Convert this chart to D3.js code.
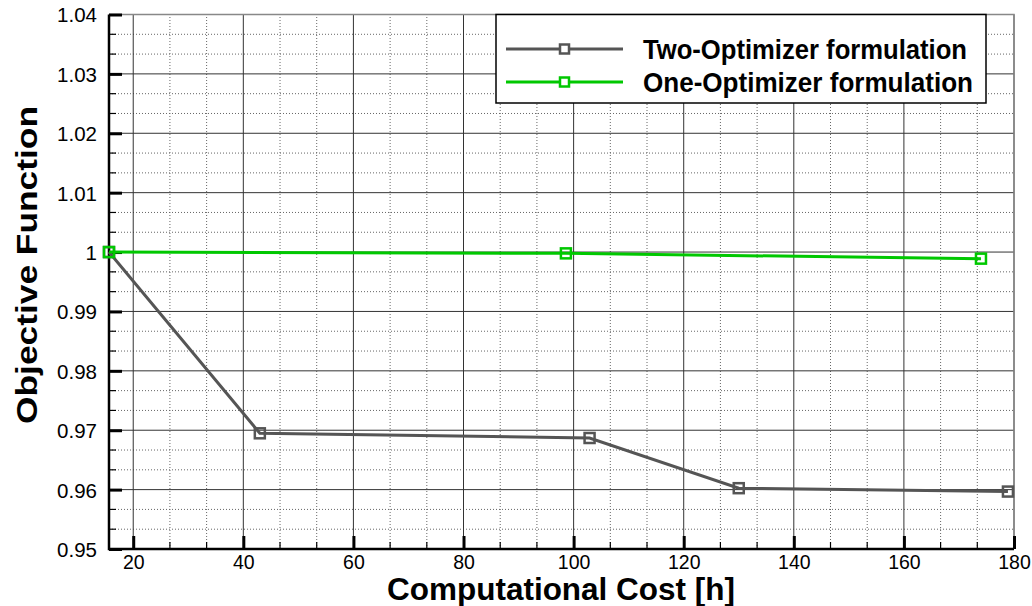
<!DOCTYPE html>
<html>
<head>
<meta charset="utf-8">
<script src="https://cdn.jsdelivr.net/npm/d3@7"></script>
<style>
  body { margin: 0; background: #fff; }
  svg { display: block; font-family: "Liberation Sans", Arial, sans-serif; }
</style>
</head>
<body>
<svg id="chart" width="1032" height="606"></svg>
<script>
// series values
const twoOptCost = [15.6, 43.0, 102.9, 130.0, 178.9];
const twoOptObj = [1.0, 0.96948, 0.96869, 0.96024, 0.95967];
const oneOptCost = [15.6, 98.6, 174.0];
const oneOptObj = [1.0, 0.99978, 0.99889];

const xTicks = [20, 40, 60, 80, 100, 120, 140, 160, 180];
const xTickLabels = ["20", "40", "60", "80", "100", "120", "140", "160", "180"];
const yTicks = [0.95, 0.96, 0.97, 0.98, 0.99, 1.0, 1.01, 1.02, 1.03, 1.04];
const yTickLabels = ["0.95", "0.96", "0.97", "0.98", "0.99", "1", "1.01", "1.02", "1.03", "1.04"];

const seriesNames = ["Two-Optimizer formulation", "One-Optimizer formulation"];
const seriesColours = ["#555555", "#00c800"];

const margin = { left: 109, right: 18, top: 14.5, bottom: 57 };
const width = 1032, height = 606;

var svg = d3.select("#chart");

var x = d3.scaleLinear()
	.domain([15.6, 180])
	.range([margin.left, width - margin.right]);
var y = d3.scaleLinear()
	.domain([0.95, 1.04])
	.range([height - margin.bottom, margin.top]);

// minor ticks: two between each pair of majors
var xMinor = [], yMinor = [];
for (var i = -1; i < xTicks.length - 1; i++) {
	var base = i < 0 ? xTicks[0] - 20 : xTicks[i];
	[base + 20 / 3, base + 40 / 3].forEach(function(v) {
		if (v >= x.domain()[0]) xMinor.push(v);
	});
}
for (var i = 0; i < yTicks.length - 1; i++) {
	yMinor.push(yTicks[i] + 0.01 / 3, yTicks[i] + 0.02 / 3);
}

var x0 = x.range()[0], x1 = x.range()[1];
var y0 = y.range()[0], y1 = y.range()[1];

// grid
var grid = svg.append("g");
grid.selectAll(".vminor").data(xMinor).enter().append("line")
	.attr("x1", d => x(d)).attr("x2", d => x(d))
	.attr("y1", y0).attr("y2", y1)
	.attr("stroke", "#666").attr("stroke-dasharray", "1,2");
grid.selectAll(".hminor").data(yMinor).enter().append("line")
	.attr("x1", x0).attr("x2", x1)
	.attr("y1", d => y(d)).attr("y2", d => y(d))
	.attr("stroke", "#666").attr("stroke-dasharray", "1,2");
grid.selectAll(".vmajor").data(xTicks).enter().append("line")
	.attr("x1", d => x(d)).attr("x2", d => x(d))
	.attr("y1", y0).attr("y2", y1)
	.attr("stroke", "#333").attr("stroke-width", 1);
grid.selectAll(".hmajor").data(yTicks).enter().append("line")
	.attr("x1", x0).attr("x2", x1)
	.attr("y1", d => y(d)).attr("y2", d => y(d))
	.attr("stroke", "#333").attr("stroke-width", 1);

// frame top / right
svg.append("path")
	.attr("d", `M${x0},${y1}H${x1}V${y0}`)
	.attr("fill", "none").attr("stroke", "#888").attr("stroke-width", 1.5);

// axes with inside ticks
var xAxis = svg.append("g").attr("transform", `translate(0,${y0})`)
	.call(d3.axisBottom(x).tickValues(xTicks).tickSize(-13)
		.tickFormat((d, i) => xTickLabels[i]));
var yAxis = svg.append("g").attr("transform", `translate(${x0},0)`)
	.call(d3.axisLeft(y).tickValues(yTicks).tickSize(-13)
		.tickFormat((d, i) => yTickLabels[i]));
[xAxis, yAxis].forEach(function(a) {
	a.attr("font-family", null).attr("font-size", null);
	a.select(".domain").remove();
	a.selectAll(".tick line").attr("stroke", "#000").attr("stroke-width", 3);
	a.selectAll(".tick text").attr("fill", "#000");
});
yAxis.selectAll(".tick text").attr("x", -12).attr("dy", "0.36em").style("font-size", "20.5px");
xAxis.selectAll(".tick text").attr("y", 20).attr("dy", "0").style("font-size", "19.5px");

svg.append("g").selectAll("line").data(xMinor).enter().append("line")
	.attr("x1", d => x(d)).attr("x2", d => x(d))
	.attr("y1", y0).attr("y2", y0 - 7)
	.attr("stroke", "#000").attr("stroke-width", 1.2);
svg.append("g").selectAll("line").data(yMinor).enter().append("line")
	.attr("x1", x0).attr("x2", x0 + 7)
	.attr("y1", d => y(d)).attr("y2", d => y(d))
	.attr("stroke", "#000").attr("stroke-width", 1.2);

svg.append("path")
	.attr("d", `M${x0},${y1}V${y0}H${x1}`)
	.attr("fill", "none").attr("stroke", "#000").attr("stroke-width", 2.5);

// series
var series = [
	{ xs: twoOptCost, ys: twoOptObj, colour: seriesColours[0] },
	{ xs: oneOptCost, ys: oneOptObj, colour: seriesColours[1] }
];
var line = d3.line().x(d => x(d[0])).y(d => y(d[1]));
series.forEach(function(s) {
	var pts = s.xs.map((v, i) => [v, s.ys[i]]);
	var g = svg.append("g");
	g.append("path").attr("d", line(pts))
		.attr("fill", "none").attr("stroke", s.colour).attr("stroke-width", 3);
	g.selectAll("rect").data(pts).enter().append("rect")
		.attr("x", d => x(d[0]) - 5).attr("y", d => y(d[1]) - 5)
		.attr("width", 10).attr("height", 10)
		.attr("fill", "none").attr("stroke", s.colour).attr("stroke-width", 2.5);
});

// legend
var lg = svg.append("g");
lg.append("rect").attr("x", 496).attr("y", y1).attr("width", 490).attr("height", 88.5)
	.attr("fill", "#fff").attr("stroke", "#000").attr("stroke-width", 1.5);
var legendTextLen = [324, 330];
seriesNames.forEach(function(name, i) {
	var ly = 49 + i * 33;
	lg.append("line").attr("x1", 506).attr("x2", 623).attr("y1", ly).attr("y2", ly)
		.attr("stroke", seriesColours[i]).attr("stroke-width", 3);
	lg.append("rect").attr("x", 560).attr("y", ly - 4.5).attr("width", 9).attr("height", 9)
		.attr("fill", "#fff").attr("stroke", seriesColours[i]).attr("stroke-width", 2.5);
	lg.append("text").attr("x", 643).attr("y", ly + 10)
		.attr("textLength", legendTextLen[i]).attr("lengthAdjust", "spacingAndGlyphs")
		.style("font-size", "28px").style("font-weight", "bold").text(name);
});

// axis titles
svg.append("text").attr("x", 561).attr("y", 600).attr("text-anchor", "middle")
	.attr("textLength", 348).attr("lengthAdjust", "spacingAndGlyphs")
	.style("font-size", "32px").style("font-weight", "bold").text("Computational Cost [h]");
svg.append("text").attr("transform", "translate(37,265) rotate(-90)").attr("text-anchor", "middle")
	.attr("textLength", 318).attr("lengthAdjust", "spacingAndGlyphs")
	.style("font-size", "30px").style("font-weight", "bold").text("Objective Function");
</script>
</body>
</html>
